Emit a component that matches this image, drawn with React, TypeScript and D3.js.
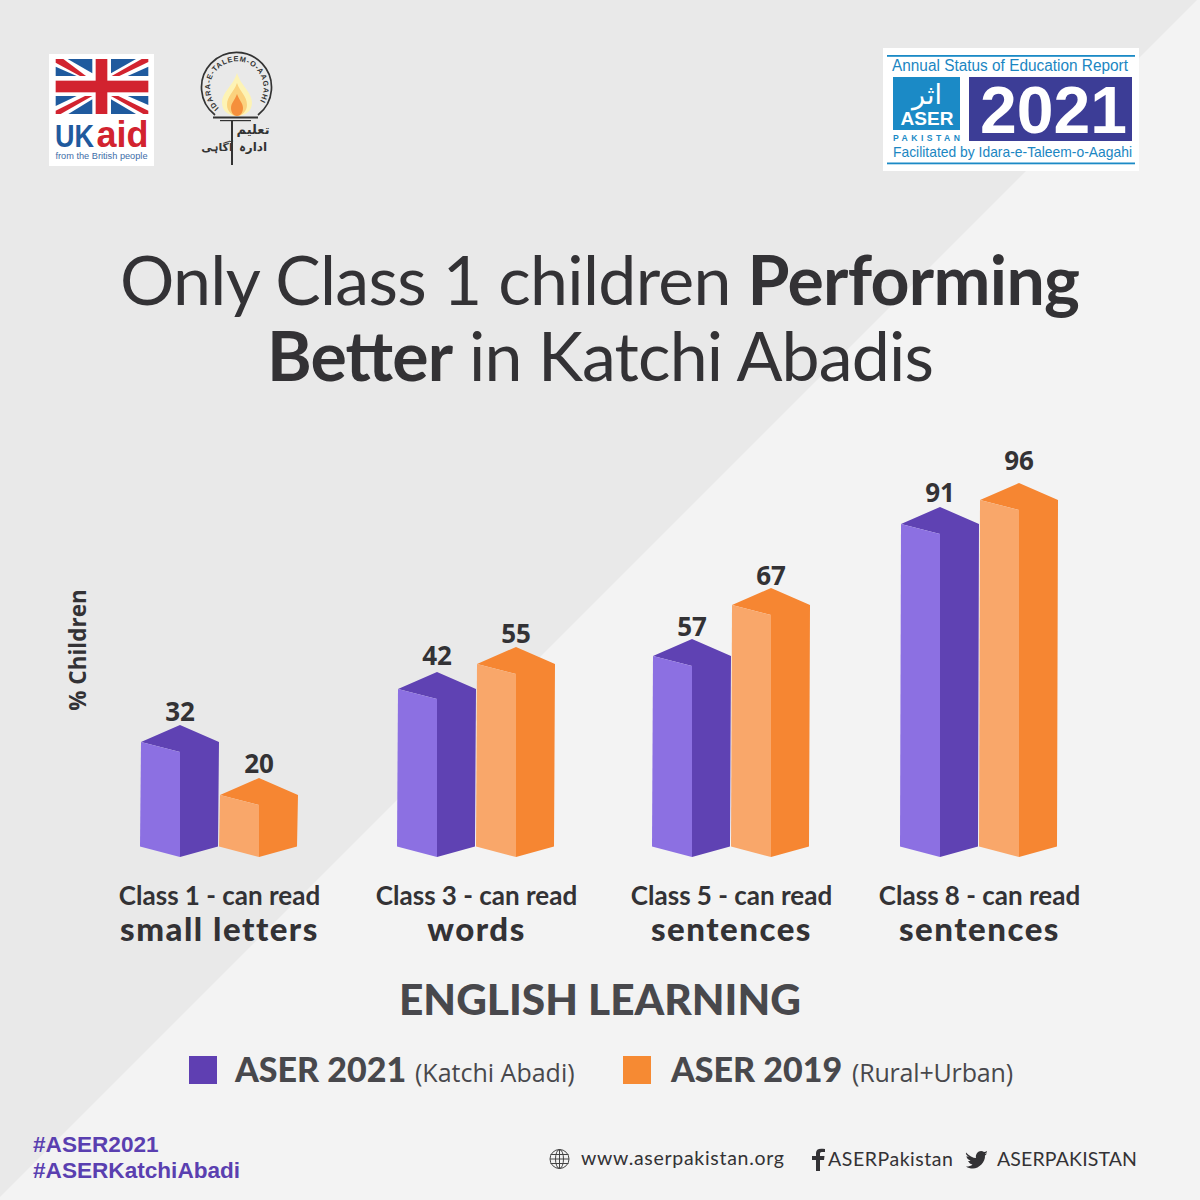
import React from "react";
import * as d3 from "d3";

const categories = ["Class 1 - can read", "Class 3 - can read", "Class 5 - can read", "Class 8 - can read"];
const skills = ["small letters", "words", "sentences", "sentences"];
const aser2021 = [32, 42, 57, 91];
const aser2019 = [20, 55, 67, 96];
const seriesNames = ["ASER 2021", "ASER 2019"];
const seriesNotes = ["(Katchi Abadi)", "(Rural+Urban)"];
const scaleStops = [0, 20, 32, 42, 55, 57, 67, 91, 96];
const scaleHeights = [0, 52, 105, 158, 183, 191, 242, 323, 347];
const labelStops = [20, 32, 42, 55, 57, 67, 91, 96];
const labelLifts = [0, -1, 2, -1, -2, -2, 0, 8];
const groupCenters = [219.5, 476.5, 731.5, 979.5];

const PURPLE = { left: "#8c70e2", right: "#5f42b3" };
const ORANGE = { left: "#f9a76a", right: "#f68632" };
const TXT = "#333235";
const SANS = "'Open Sans', sans-serif";
const TITLE = "Lato, sans-serif";
const ARIAL = "'Liberation Sans', Arial";

const h = d3.scaleLinear().domain(scaleStops).range(scaleHeights);
const lift = d3.scaleOrdinal<number, number>().domain(labelStops).range(labelLifts);
const BASE = 857;
const HALF = 39;
const DROP = 10.5;
const TOPD = 27;
const TOPE = 10;

const poly = (pts: number[][]) => {
  const p = d3.path();
  pts.forEach((q, i) => (i ? p.lineTo(q[0], q[1]) : p.moveTo(q[0], q[1])));
  p.closePath();
  return p.toString();
};

function Bar({ cx, value, c }: { cx: number; value: number; c: typeof PURPLE }) {
  const top = BASE - h(value);
  const l = cx - HALF, r = cx + HALF;
  return (
    <g>
      <path
        d={poly([[l, top - TOPE], [cx, top - TOPD], [r, top - TOPE], [r - 1, BASE - DROP], [cx, BASE], [cx, top]])}
        fill={c.right}
      />
      <path d={poly([[l - 1, BASE - DROP], [cx, BASE], [cx, top], [l, top - TOPE]])} fill={c.left} />
      <text x={cx} y={top - TOPD - 5 - lift(value)} textAnchor="middle" fontFamily={SANS} fontWeight={700} fontSize={26} fill={TXT}>{value}</text>
    </g>
  );
}

function UkAid() {
  const b = "#1f5a9e", r = "#d2232f";
  return (
    <g>
      <rect x={49} y={54} width={105} height={112} fill="#fff" />
      <svg x={30} y={40} width={260} height={140} viewBox="0 0 780 420">
        <polygon points="113,57 187,57 187,100" fill={b} />
        <polygon points="243,57 318,57 243,100" fill={b} />
        <polygon points="77,80 140,108 77,108" fill={b} />
        <polygon points="355,80 355,108 293,108" fill={b} />
        <polygon points="77,168 140,168 77,198" fill={b} />
        <polygon points="293,168 355,168 355,195" fill={b} />
        <polygon points="187,178 187,222 115,222" fill={b} />
        <polygon points="243,178 318,222 243,222" fill={b} />
        <polygon points="77,57 100,57 168,108 150,108 77,68" fill={r} />
        <polygon points="355,57 335,57 245,108 268,108 355,66" fill={r} />
        <polygon points="77,212 165,168 187,168 92,222 77,222" fill={r} />
        <polygon points="355,212 265,168 243,168 340,222 355,222" fill={r} />
        <rect x={197} y={57} width={35} height={165} fill={r} />
        <rect x={77} y={122} width={278} height={35} fill={r} />
      </svg>
      <text x={55} y={147} fontFamily={ARIAL} fontWeight={700} fontSize={31} fill={b} textLength={39} lengthAdjust="spacingAndGlyphs">UK</text>
      <text x={96.5} y={147} fontFamily={ARIAL} fontWeight={700} fontSize={37} fill={r} textLength={52} lengthAdjust="spacingAndGlyphs">aid</text>
      <text x={55.5} y={159} fontFamily={ARIAL} fontSize={9.6} fill="#3e6da8" textLength={92} lengthAdjust="spacingAndGlyphs">from the British people</text>
    </g>
  );
}

function Itu() {
  const ink = "#333";
  return (
    <g>
      <defs>
        <path id="arcT" d="M 219,108 A 26.7,26.7 0 1 1 254.5,108" />
      </defs>
      <path d="M 215,115 A 35,35 0 1 1 258,115" fill="none" stroke={ink} strokeWidth={1.7} />
      <path d="M 237,73 C 233,86 222,92 222,103 C 222,111 229,116 237,116 C 245,116 252,111 252,103 C 252,92 241,86 237,73 Z" fill="#fdf3b5" />
      <path d="M 237,83 C 234,92 227,96 227,105 C 227,111 232,116 237,116 C 242,116 247,111 247,105 C 247,96 240,92 237,83 Z" fill="#fbd27e" />
      <path d="M 237,94 C 235,100 231,103 231,108 C 231,113 234,116 237,116 C 240,116 243,113 243,108 C 243,103 239,100 237,94 Z" fill="#f58f3c" />
      <text fontFamily={ARIAL} fontWeight={700} fontSize={7.4} fill={ink} letterSpacing={0.75}>
        <textPath href="#arcT" startOffset="0">IDARA-E-TALEEM-O-AAGAHI</textPath>
      </text>
      <rect x={213} y={116.5} width={45} height={2} fill={ink} />
      <rect x={220} y={120} width={31} height={1.2} fill={ink} />
      <rect x={231} y={121} width={2} height={44} fill={ink} />
      <text x={253} y={134} textAnchor="middle" fontFamily="'DejaVu Sans'" fontWeight={700} fontSize={13} fill={ink}>تعلیم</text>
      <text x={217} y={151} textAnchor="middle" fontFamily="'DejaVu Sans'" fontWeight={700} fontSize={11} fill={ink}>آگاہی</text>
      <text x={253} y={151} textAnchor="middle" fontFamily="'DejaVu Sans'" fontWeight={700} fontSize={12} fill={ink}>ادارہ</text>
    </g>
  );
}

function AserLogo() {
  return (
    <g>
      <rect x={883} y={48} width={256} height={123} fill="#fff" />
      <rect x={887} y={55} width={248} height={1.8} fill="#1b8ac6" />
      <rect x={887} y={162.5} width={248} height={1.8} fill="#1b8ac6" />
      <text x={892} y={71} fontFamily={ARIAL} fontSize={16} fill="#1b86c2" textLength={236} lengthAdjust="spacingAndGlyphs">Annual Status of Education Report</text>
      <rect x={893} y={77} width={67} height={53} fill="#1b8ac6" />
      <text x={927} y={104} textAnchor="middle" fontFamily="'DejaVu Sans'" fontSize={27} fill="#fff">اثر</text>
      <text x={927} y={125} textAnchor="middle" fontFamily={ARIAL} fontWeight={700} fontSize={19} fill="#fff">ASER</text>
      <text x={893} y={141} fontFamily={ARIAL} fontWeight={700} fontSize={8.6} fill="#1b8ac6" textLength={67}>PAKISTAN</text>
      <rect x={969} y={77} width={163} height={64} fill="#3c3d96" />
      <text x={980} y={133} fontFamily={ARIAL} fontWeight={700} fontSize={67} fill="#fff" textLength={147} lengthAdjust="spacingAndGlyphs">2021</text>
      <text x={893} y={157} fontFamily={ARIAL} fontSize={15} fill="#1b86c2" textLength={239} lengthAdjust="spacingAndGlyphs">Facilitated by Idara-e-Taleem-o-Aagahi</text>
    </g>
  );
}

function Footer() {
  const g = { fill: "none", stroke: "#444", strokeWidth: 1 };
  return (
    <g>
      <g transform="translate(559.5,1159)" {...g}>
        <circle r={9.5} />
        <ellipse rx={4} ry={9.5} />
        <line x1={-9} x2={9} y1={-4.5} y2={-4.5} />
        <line x1={-9.5} x2={9.5} y1={0} y2={0} />
        <line x1={-9} x2={9} y1={4.5} y2={4.5} />
        <line x1={0} x2={0} y1={-9.5} y2={9.5} />
      </g>
      <text x={581} y={1165} fontFamily={TITLE} fontSize={19.5} fill={TXT} textLength={203}>www.aserpakistan.org</text>
      <path d="M 816,1171 L 816,1160 L 812,1160 L 812,1156 L 816,1156 L 816,1153 C 816,1149 819,1148 825,1149 L 825,1152 C 821,1152 820,1152 820,1154 L 820,1156 L 824.5,1156 L 824,1160 L 820,1160 L 820,1171 Z" fill={TXT} />
      <text x={828} y={1166} fontFamily={TITLE} fontSize={19.5} fill={TXT} textLength={125}>ASERPakistan</text>
      <path d="M 966,1152.5 C 969,1156 973,1158 976,1158 C 975,1153 980,1149 984,1152 C 985,1152 986,1151.5 987,1151 C 987,1152.5 986,1153 985,1154 C 986,1154 986.5,1153.5 987,1153 C 986.5,1154 986,1155 985,1155.5 C 985.5,1162 979,1168.5 973,1168.5 C 970,1168.5 968,1168 966,1166.5 C 969,1166.5 971,1166 972.5,1164.5 C 970,1164 969,1162.5 968,1161 C 969,1161 970,1161 970.5,1160.5 C 968,1159.5 966.5,1158 966.5,1156 C 967,1156.5 968,1156.5 969,1156.5 C 966.5,1155.5 965.5,1154 966,1152.5 Z" fill={TXT} />
      <text x={997} y={1166} fontFamily={TITLE} fontSize={19.5} fill={TXT} textLength={140}>ASERPAKISTAN</text>
    </g>
  );
}

export default function App() {
  return (
    <svg width={1200} height={1200} viewBox="0 0 1200 1200" style={{ position: "absolute", left: 0, top: 0 }}>
      <rect width={1200} height={1200} fill="#e9e9e9" />
      <polygon points="1200,-3 1200,1200 -3,1200" fill="#f3f3f3" />
      <UkAid />
      <Itu />
      <AserLogo />

      <text x={120} y={305} fontFamily={TITLE} fontSize={68} fill={TXT} textLength={960}>
        Only Class 1 children <tspan fontWeight={700}>Performing</tspan>
      </text>
      <text x={267} y={381} fontFamily={TITLE} fontSize={68} fill={TXT} textLength={667}>
        <tspan fontWeight={700}>Better</tspan> in Katchi Abadis
      </text>

      <text transform="translate(86,650) rotate(-90)" textAnchor="middle" fontFamily={SANS} fontWeight={700} fontSize={22.5} fill={TXT}>% Children</text>

      {categories.map((cat, i) => (
        <g key={cat}>
          <Bar cx={groupCenters[i] - 39.5} value={aser2021[i]} c={PURPLE} />
          <Bar cx={groupCenters[i] + 39.5} value={aser2019[i]} c={ORANGE} />
          <text x={groupCenters[i]} y={905} textAnchor="middle" fontFamily={TITLE} fontWeight={700} fontSize={26} fill={TXT}>{cat}</text>
          <text x={groupCenters[i]} y={941} textAnchor="middle" fontFamily={TITLE} fontWeight={900} fontSize={33} letterSpacing={1.5} fill={TXT}>{skills[i]}</text>
        </g>
      ))}

      <text x={600} y={1015} textAnchor="middle" fontFamily={TITLE} fontWeight={900} fontSize={42.4} fill="#48484c">ENGLISH LEARNING</text>

      <rect x={189} y={1056} width={28} height={28} fill="#5f3fb2" />
      <text x={235} y={1082} fontFamily={TITLE} fontWeight={900} fontSize={34} fill="#48484c">{seriesNames[0]}</text>
      <text x={415} y={1082} fontFamily={SANS} fontSize={25} fill="#48484c">{seriesNotes[0]}</text>
      <rect x={623} y={1056} width={28} height={28} fill="#f68a33" />
      <text x={671} y={1082} fontFamily={TITLE} fontWeight={900} fontSize={34} fill="#48484c">{seriesNames[1]}</text>
      <text x={852} y={1082} fontFamily={SANS} fontSize={25} fill="#48484c" textLength={161}>{seriesNotes[1]}</text>

      <text x={33} y={1152} fontFamily={ARIAL} fontWeight={700} fontSize={22.6} fill="#5a3fb0">#ASER2021</text>
      <text x={33} y={1178} fontFamily={ARIAL} fontWeight={700} fontSize={22.6} fill="#5a3fb0">#ASERKatchiAbadi</text>
      <Footer />
    </svg>
  );
}
